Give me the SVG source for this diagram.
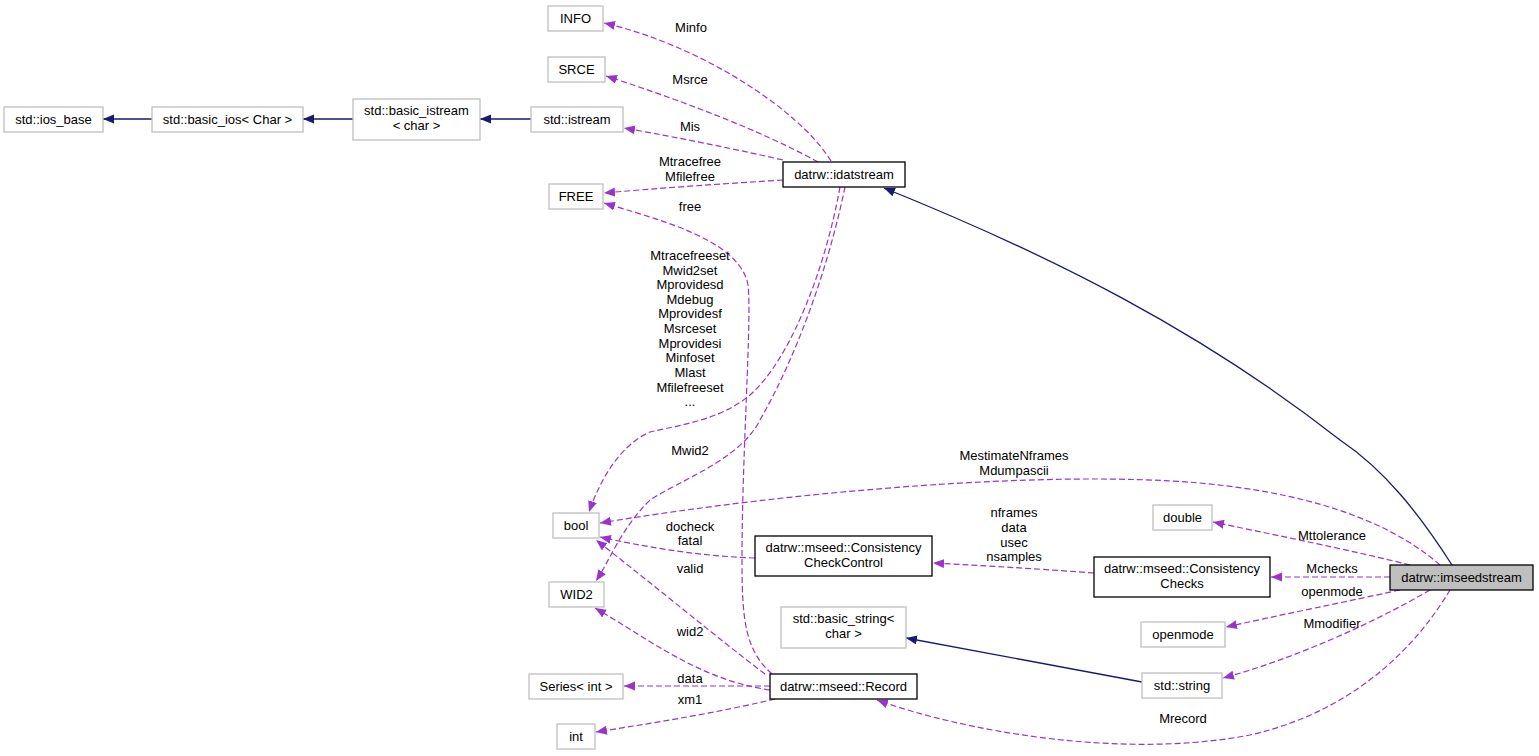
<svg xmlns="http://www.w3.org/2000/svg" width="1539" height="756" viewBox="0 0 1539 756">
<defs>
<style>
text{font-family:"Liberation Sans",Arial,sans-serif;font-size:13px;fill:#000;text-anchor:middle}
.n rect{fill:#fff;stroke:#bfbfbf;stroke-width:1.3}
.d rect{fill:#fff;stroke:#000;stroke-width:1.3}
.cur rect{fill:#bfbfbf;stroke:#000;stroke-width:1.3}
.m{fill:none;stroke:#9a32cd;stroke-width:1.2;stroke-dasharray:6,3;marker-end:url(#pa)}
.i{fill:none;stroke:#191970;stroke-width:1.3;marker-end:url(#ba)}
</style>
<marker id="pa" markerUnits="userSpaceOnUse" markerWidth="12" markerHeight="10" refX="11" refY="4.5" orient="auto"><path d="M0,0 L11,4.5 L0,9 z" fill="#9a32cd"/></marker>
<marker id="ba" markerUnits="userSpaceOnUse" markerWidth="12" markerHeight="10" refX="11" refY="4.5" orient="auto"><path d="M0,0 L11,4.5 L0,9 z" fill="#191970"/></marker>
</defs>
<rect width="1539" height="756" fill="#fff"/>
<g id="connectors">
<path class="i" d="M152,119 L103,119"/>
<path class="i" d="M353,119 L303,119"/>
<path class="i" d="M531,119 L480,119"/>
<path class="i" d="M1452,565 C1420,515 1385,470 1340,440 C1200,330 1050,255 884,188"/>
<path class="i" d="M1142,682 L906,638"/>
<path class="m" d="M831,161 C800,110 700,45 604,23"/>
<path class="m" d="M818,162 C760,130 680,100 606,76"/>
<path class="m" d="M783,160 C730,148 680,138 624,128"/>
<path class="m" d="M783,180 C720,184 660,188 604,193"/>
<path class="m" d="M772,674 C745,650 742,620 742,560 C742,450 752,320 748,285 C740,240 660,220 604,203"/>
<path class="m" d="M840,187 C825,270 790,360 750,395 C720,420 680,425 650,432 C620,445 600,480 589,512"/>
<path class="m" d="M845,187 C830,260 800,350 760,420 C740,460 680,480 650,500 C620,530 610,560 596,581"/>
<path class="m" d="M1440,565 C1400,530 1330,495 1200,483 C1050,470 800,490 600,523"/>
<path class="m" d="M1410,565 C1350,550 1280,536 1213,522"/>
<path class="m" d="M1390,577 L1271,577"/>
<path class="m" d="M1400,590 C1340,603 1280,615 1226,627"/>
<path class="m" d="M1430,590 C1370,625 1290,660 1223,678"/>
<path class="m" d="M1450,590 C1420,640 1360,710 1250,735 C1120,760 960,730 877,700"/>
<path class="m" d="M1094,573 C1040,569 990,566 933,563"/>
<path class="m" d="M755,558 C700,556 650,548 600,537"/>
<path class="m" d="M765,674 C720,640 660,590 596,540"/>
<path class="m" d="M770,690 C700,680 650,640 595,608"/>
<path class="m" d="M770,686 L624,686"/>
<path class="m" d="M775,699 C720,712 660,722 596,732"/>
<text x="691" y="32">Minfo</text>
<text x="690" y="84">Msrce</text>
<text x="690" y="131">Mis</text>
<text x="690" y="166">Mtracefree</text>
<text x="690" y="181">Mfilefree</text>
<text x="690" y="211">free</text>
<text x="690" y="260">Mtracefreeset</text>
<text x="690" y="275">Mwid2set</text>
<text x="690" y="289">Mprovidesd</text>
<text x="690" y="304">Mdebug</text>
<text x="690" y="318">Mprovidesf</text>
<text x="690" y="333">Msrceset</text>
<text x="690" y="348">Mprovidesi</text>
<text x="690" y="362">Minfoset</text>
<text x="690" y="377">Mlast</text>
<text x="690" y="392">Mfilefreeset</text>
<text x="690" y="406">...</text>
<text x="690" y="455">Mwid2</text>
<text x="1014" y="460">MestimateNframes</text>
<text x="1014" y="475">Mdumpascii</text>
<text x="1014" y="517">nframes</text>
<text x="1014" y="532">data</text>
<text x="1014" y="547">usec</text>
<text x="1014" y="561">nsamples</text>
<text x="1332" y="540">Mttolerance</text>
<text x="1332" y="573">Mchecks</text>
<text x="1332" y="596">openmode</text>
<text x="1332" y="628">Mmodifier</text>
<text x="1183" y="723">Mrecord</text>
<text x="690" y="531">docheck</text>
<text x="690" y="545">fatal</text>
<text x="690" y="573">valid</text>
<text x="690" y="636">wid2</text>
<text x="690" y="683">data</text>
<text x="690" y="704">xm1</text>
</g>
<g id="n_ios_base" class="n"><rect x="4" y="107" width="99" height="25"/><text x="53.5" y="124">std::ios_base</text></g>
<g id="n_basic_ios" class="n"><rect x="152" y="107" width="151" height="25"/><text x="227.5" y="124">std::basic_ios&lt; Char &gt;</text></g>
<g id="n_basic_istream" class="n"><rect x="353" y="99" width="127" height="41"/><text x="416.5" y="115">std::basic_istream</text><text x="416.5" y="130">&lt; char &gt;</text></g>
<g id="n_istream" class="n"><rect x="531" y="107" width="92" height="25"/><text x="577" y="124">std::istream</text></g>
<g id="n_INFO" class="n"><rect x="548" y="6" width="55" height="25"/><text x="575.5" y="23">INFO</text></g>
<g id="n_SRCE" class="n"><rect x="548" y="57" width="57" height="25"/><text x="576.5" y="74">SRCE</text></g>
<g id="n_FREE" class="n"><rect x="549" y="184" width="54" height="25"/><text x="576" y="201">FREE</text></g>
<g id="n_idatstream" class="d"><rect x="783" y="162" width="122" height="25"/><text x="844" y="179">datrw::idatstream</text></g>
<g id="n_bool" class="n"><rect x="553" y="513" width="46" height="25"/><text x="576" y="530">bool</text></g>
<g id="n_WID2" class="n"><rect x="549" y="582" width="55" height="25"/><text x="576.5" y="599">WID2</text></g>
<g id="n_Series" class="n"><rect x="529" y="674" width="94" height="25"/><text x="576" y="691">Series&lt; int &gt;</text></g>
<g id="n_int" class="n"><rect x="557" y="724" width="38" height="25"/><text x="576" y="741">int</text></g>
<g id="n_CCControl" class="d"><rect x="755" y="536" width="177" height="40"/><text x="843.5" y="552">datrw::mseed::Consistency</text><text x="843.5" y="567">CheckControl</text></g>
<g id="n_basic_string" class="n"><rect x="781" y="607" width="125" height="41"/><text x="843.5" y="623">std::basic_string&lt;</text><text x="843.5" y="638">char &gt;</text></g>
<g id="n_Record" class="d"><rect x="770" y="674" width="147" height="25"/><text x="843.5" y="691">datrw::mseed::Record</text></g>
<g id="n_double" class="n"><rect x="1153" y="505" width="59" height="25"/><text x="1182.5" y="522">double</text></g>
<g id="n_CChecks" class="d"><rect x="1094" y="557" width="176" height="40"/><text x="1182" y="573">datrw::mseed::Consistency</text><text x="1182" y="588">Checks</text></g>
<g id="n_openmode" class="n"><rect x="1141" y="622" width="84" height="25"/><text x="1183" y="639">openmode</text></g>
<g id="n_string" class="n"><rect x="1142" y="673" width="80" height="25"/><text x="1182" y="690">std::string</text></g>
<g id="n_imseedstream" class="cur"><rect x="1390" y="565" width="143" height="25"/><text x="1461.5" y="582">datrw::imseedstream</text></g>
</svg>
